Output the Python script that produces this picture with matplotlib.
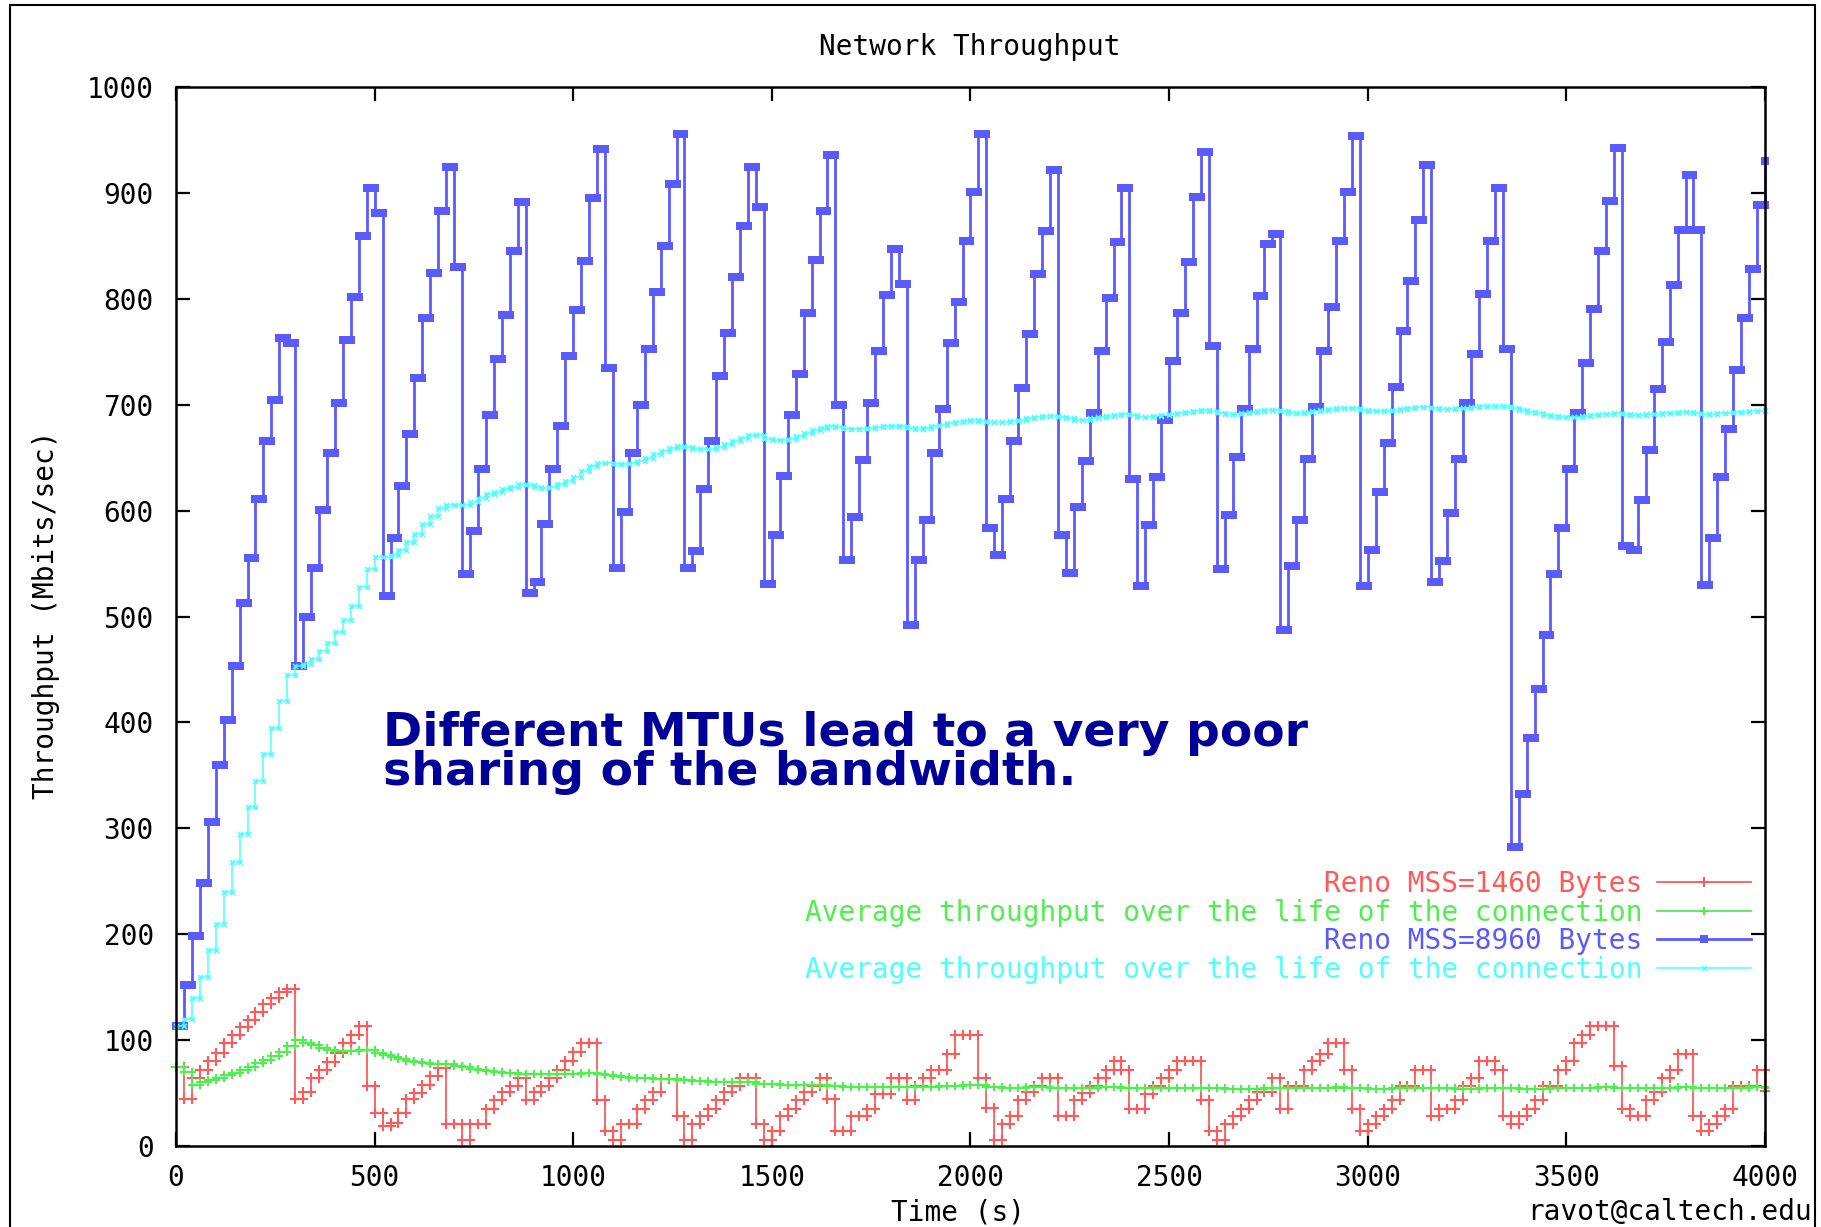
import matplotlib.pyplot as plt
import numpy as np
from matplotlib.patches import Rectangle

plt.rcParams["font.family"] = ["DejaVu Sans Mono"]

STEP_S = 20  # logging interval of the iperf samples (s)

# Reno MSS=1460 Bytes, Mbits/sec, one sample per STEP_S
reno_1460 = [
    75, 44, 64, 72, 80, 88, 97, 105, 112, 119, 127, 134, 140, 145, 148,
    44, 51, 64, 72, 79, 88, 97, 105, 113,
    57, 31, 19, 22, 31, 44, 50, 58, 66, 74,
    21, 21, 6, 21, 21, 35, 43, 51, 57, 64,
    43, 51, 57, 64, 72, 80, 89, 97, 97,
    43, 14, 6, 21, 21, 35, 43, 51, 63, 63,
    28, 6, 21, 28, 35, 43, 51, 57, 64, 64,
    21, 6, 14, 28, 35, 43, 51, 57, 64,
    44, 14, 14, 28, 28, 35, 49, 49, 64, 64, 43, 57, 64, 72, 72, 87, 105, 105, 105,
    64, 36, 6, 21, 28, 43, 51, 57, 64, 64,
    28, 28, 43, 50, 57, 64, 72, 80, 72,
    35, 35, 49, 57, 64, 72, 80, 80, 80,
    43, 14, 6, 21, 28, 35, 43, 51, 51, 64, 35, 57, 57, 72, 80, 87, 97, 97,
    72, 35, 14, 21, 28, 35, 43, 57, 57, 72, 72, 28, 35, 35, 43, 57, 64, 80, 80, 72,
    28, 21, 28, 35, 43, 57, 57, 72, 80, 97, 105, 113, 113, 113, 76, 35, 28, 28,
    43, 51, 64, 72, 87, 87, 28, 14, 21, 28, 35, 57, 57, 57, 72, 52,
]

# running average of the 1460 byte flow
avg_1460 = [
    75, 70, 58, 60, 62, 64, 67, 69, 72, 75, 78, 81, 85, 89, 94, 100,
    97, 95, 93, 91, 90, 90, 90, 91, 91, 88,
    86, 84, 82, 80, 79, 78, 77, 77, 77, 76,
    75, 73, 72, 71, 70, 69, 69, 68, 68, 68,
    68, 68, 68, 68, 68, 69, 69, 68, 67, 66,
    65, 64, 64, 64, 63, 63, 63, 62, 62, 61,
    61, 60, 60, 60, 60, 60, 60, 59, 59, 59,
    58, 58, 58, 58, 58, 58, 57, 57, 56, 56,
    56, 56, 56, 56, 56, 56, 56, 56, 56, 56,
    57, 57, 57, 58, 58, 58, 56, 56, 55, 55,
    55, 56, 56, 56, 55, 55, 55, 55, 55, 55,
    56, 56, 56, 55, 55, 55, 55, 55, 55, 55,
    55, 55, 55, 55, 55, 55, 54, 54, 54, 54,
    54, 55, 55, 55, 55, 55, 55, 55, 55, 55,
    56, 55, 55, 55, 54, 54, 54, 55, 55, 55,
    55, 55, 55, 55, 55, 54, 54, 54, 55, 55,
    55, 55, 55, 54, 54, 54, 54, 55, 55, 55,
    55, 55, 55, 56, 56, 55, 55, 55, 55, 55,
    55, 55, 55, 56, 56, 55, 55, 55, 55, 55,
    55, 55, 56, 56, 55,
]

# Reno MSS=8960 Bytes (jumbo frames)
reno_8960 = [
    113, 152, 198, 248, 306, 360, 402, 453, 513, 555, 611, 666, 704, 763, 758,
    453, 500, 546, 601, 654, 702, 761, 802, 859, 905, 881,
    519, 574, 623, 672, 725, 782, 824, 883, 924, 830,
    540, 581, 639, 690, 743, 785, 845, 891,
    522, 533, 587, 639, 680, 746, 789, 836, 895, 941, 735,
    546, 599, 654, 700, 753, 806, 850, 908, 956,
    546, 562, 620, 666, 727, 768, 821, 869, 924, 887,
    531, 577, 633, 690, 729, 787, 837, 883, 936, 700,
    553, 594, 648, 702, 751, 804, 847, 814,
    492, 553, 591, 654, 696, 758, 797, 855, 901, 956,
    584, 558, 611, 666, 716, 767, 823, 864, 922,
    577, 541, 603, 647, 692, 751, 801, 854, 905,
    630, 529, 586, 632, 686, 741, 787, 835, 896, 939, 755,
    545, 596, 651, 696, 753, 803, 852, 861,
    487, 548, 591, 649, 698, 751, 792, 855, 901, 954,
    529, 563, 618, 664, 717, 770, 817, 874, 926,
    533, 552, 598, 649, 702, 748, 805, 855, 905, 753,
    282, 332, 385, 432, 483, 540, 584, 639, 692, 739, 790, 845, 892, 942,
    567, 563, 610, 657, 715, 759, 813, 865, 917, 865,
    530, 574, 632, 677, 733, 782, 828, 889, 930,
]

# running average of the 8960 byte flow
avg_8960 = [
    113, 120, 140, 160, 185, 210, 240, 268, 295, 320,
    345, 370, 395, 420, 445, 453, 455, 460, 467, 475,
    485, 497, 510, 528, 545, 556, 556, 558, 563, 570,
    578, 587, 595, 602, 605, 605, 605, 608, 612, 616,
    618, 620, 622, 625, 624, 622, 621, 622, 625, 628,
    632, 637, 642, 645, 645, 644, 644, 645, 647, 650,
    653, 656, 659, 661, 660, 658, 658, 658, 660, 663,
    666, 669, 671, 671, 668, 667, 667, 668, 670, 673,
    676, 678, 680, 679, 677, 677, 677, 678, 679, 680,
    680, 680, 678, 677, 678, 680, 681, 683, 684, 685,
    686, 685, 684, 684, 684, 685, 686, 687, 688, 689,
    689, 688, 687, 686, 686, 687, 688, 689, 690, 691,
    690, 688, 688, 689, 690, 691, 692, 693, 694, 695,
    694, 692, 691, 691, 692, 693, 694, 695, 695, 694,
    692, 692, 693, 694, 695, 696, 697, 697, 697, 695,
    694, 694, 694, 695, 696, 697, 698, 698, 697, 696,
    696, 697, 697, 698, 699, 699, 699, 699, 697, 695,
    693, 692, 690, 689, 688, 688, 688, 689, 690, 691,
    691, 692, 691, 690, 690, 691, 691, 692, 692, 693,
    693, 692, 691, 691, 692, 692, 693, 693, 694, 694,
    695,
]

labels = [
    "Reno MSS=1460 Bytes",
    "Average throughput over the life of the connection",
    "Reno MSS=8960 Bytes",
    "Average throughput over the life of the connection",
]
colors = ["#ff5a5a", "#4ef04e", "#5a5aff", "#4dffff"]

x_ticks = [0, 500, 1000, 1500, 2000, 2500, 3000, 3500, 4000]
y_ticks = [0, 100, 200, 300, 400, 500, 600, 700, 800, 900, 1000]


def as_steps(values):
    """Expand samples into a staircase with a vertex at both ends of every step."""
    assert len(values) == 201, len(values)
    t = np.arange(len(values)) * STEP_S
    return np.repeat(t, 2)[1:], np.repeat(np.asarray(values, float), 2)[:-1]


W, H = 1821, 1227
FS = 20
fig = plt.figure(figsize=(W / 100, H / 100), dpi=100)
ax = fig.add_axes([176 / W, 1 - 1146 / H, (1765 - 176) / W, (1146 - 87) / H])

styles = [
    dict(lw=1.3, marker="+", ms=6.5, mew=1.5),
    dict(lw=1.3, marker="+", ms=5.5, mew=1.5),
    dict(lw=2.0, marker="s", ms=5.2, mew=0),
    dict(lw=1.1, marker="x", ms=3.6, mew=1.1),
]
for vals, lab, col, st in zip([reno_1460, avg_1460, reno_8960, avg_8960],
                              labels, colors, styles):
    x, y = as_steps(vals)
    ax.plot(x, y, color=col, label=lab, clip_on=False, **st)

ax.set_xlim(0, 4000)
ax.set_ylim(0, 1000)
ax.set_xticks(x_ticks)
ax.set_yticks(y_ticks)
ax.tick_params(direction="in", length=10, width=1.6, top=True, right=True,
               labelsize=FS)
ax.tick_params(axis="x", pad=13)
ax.tick_params(axis="y", pad=16)
for sp in ax.spines.values():
    sp.set_linewidth(1.8)

fig.text(970 / W, 1 - 47 / H, "Network Throughput", ha="center", va="center",
         fontsize=FS)
fig.text(958 / W, 1 - 1212 / H, "Time (s)", ha="center", va="center",
         fontsize=FS)
fig.text(46 / W, 1 - 615 / H, "Throughput (Mbits/sec)", ha="center",
         va="center", rotation=90, fontsize=FS)
fig.text(1812 / W, 1 - 1212 / H, "ravot@caltech.edu", ha="right",
         va="center", fontsize=FS)

# va="baseline" pins the last line of a multi-line text
fig.text(383 / W, 1 - 785 / H,
         "Different MTUs lead to a very poor\nsharing of the bandwidth.",
         family="DejaVu Sans", fontweight="bold", fontsize=34,
         color="#000099", ha="left", va="baseline", linespacing=0.84)

ax.legend(loc="upper right", bbox_to_anchor=(1751 / W, 1 - 870 / H),
          bbox_transform=fig.transFigure, frameon=False, markerfirst=False,
          numpoints=1, fontsize=FS, labelcolor="linecolor", borderpad=0,
          borderaxespad=0, handlelength=3.4, handletextpad=0.5,
          labelspacing=0.02)

fig.patches.append(Rectangle((10 / W, -0.05), (1815 - 10) / W, 1.05 - 5 / H,
                             transform=fig.transFigure, fill=False,
                             lw=1.5, ec="black"))

fig.savefig("out.png", dpi=100)
